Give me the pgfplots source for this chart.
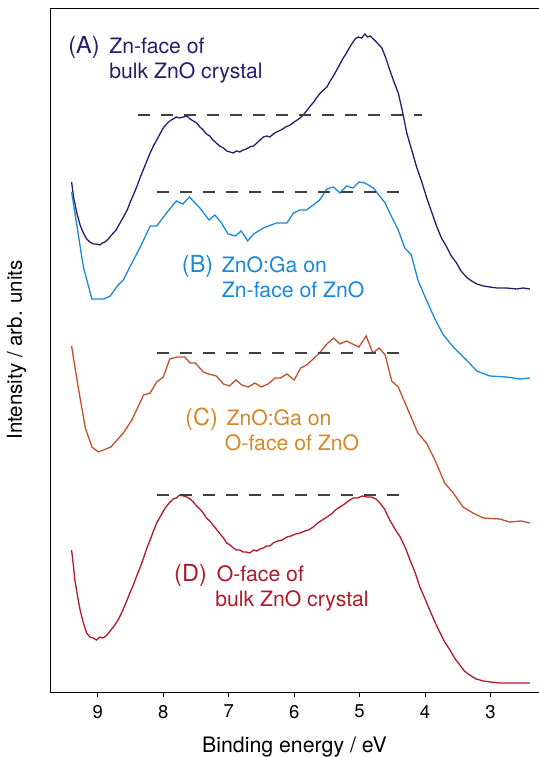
\documentclass[border=0pt]{standalone}
\usepackage{pgfplots}
\pgfplotsset{compat=1.18}
\usetikzlibrary{calc}
\usepackage{fontspec}
\setmainfont{TeX Gyre Heros}
\definecolor{cA}{HTML}{2B1B6E}
\definecolor{cB}{HTML}{1A8AD6}
\definecolor{cC}{HTML}{C2502C}
\definecolor{cCl}{HTML}{D4882A}
\definecolor{cD}{HTML}{B01A2A}
\definecolor{dashgray}{HTML}{404040}
\begin{document}
\begin{tikzpicture}
\begin{axis}[
  scale only axis, width=489bp, height=684bp,
  xmin=2.26, xmax=9.73, x dir=reverse, ymin=0, ymax=684,
  axis x line=box, axis y line=left, axis line style={-, line width=0.9bp, black},
  xtick={3,4,5,6,7,8,9}, xtick pos=left, ytick=\empty,
  tick align=outside, major tick length=5bp, tick style={black, line width=0.9bp},
  /pgf/number format/assume math mode=true,
  xticklabel style={font=\fontsize{18.5bp}{22bp}\selectfont, yshift=-4.5bp},
  clip=false,
]
\coordinate (sw) at (rel axis cs:0,0);
\coordinate (ne) at (rel axis cs:1,1);
\coordinate (bm) at (rel axis cs:0.5,0);
\coordinate (lm) at (rel axis cs:0,0.5);
% (A)
\addplot[cA, line width=1.3bp] coordinates {
(9.40,510)(9.37,495)(9.32,479)(9.27,467)(9.22,459)(9.17,453)(9.12,450)(9.07,448)(9.02,448)(8.97,447)
(8.93,449)(8.89,450)(8.84,453)(8.79,457)(8.72,462)(8.66,469)(8.60,476)(8.55,482)(8.51,489)(8.45,498)
(8.40,506)(8.35,515)(8.30,523)(8.25,531)(8.20,539)(8.15,546)(8.10,552)(8.05,558)(8.00,564)(7.95,568)
(7.90,571)(7.85,573)(7.80,575)(7.75,574)(7.69,575)(7.64,576)(7.59,573)(7.54,571)(7.49,569)(7.44,565)
(7.39,562)(7.34,558)(7.29,556)(7.24,552)(7.19,549)(7.14,546)(7.08,544)(7.03,541)(6.98,540)(6.93,539)
(6.88,541)(6.83,540)(6.78,542)(6.73,543)(6.68,545)(6.62,546)(6.57,549)(6.52,552)(6.47,555)(6.42,556)
(6.37,555)(6.32,558)(6.27,560)(6.20,562)(6.13,565)(6.06,567)(6.00,570)(5.93,573)(5.86,577)(5.80,582)
(5.74,587)(5.70,590)(5.66,594)(5.60,599)(5.55,602)(5.50,605)(5.45,611)(5.40,616)(5.35,622)(5.30,628)
(5.25,634)(5.20,639)(5.15,645)(5.10,650)(5.07,653)(5.02,655)(4.97,654)(4.92,658)(4.88,655)(4.84,656)
(4.79,653)(4.73,649)(4.66,644)(4.60,634)(4.54,622)(4.48,611)(4.41,599)(4.35,582)(4.28,559)(4.20,541)
(4.13,525)(4.05,510)(3.98,495)(3.90,480)(3.82,465)(3.75,454)(3.67,445)(3.60,436)(3.52,429)(3.45,421)
(3.37,415)(3.29,411)(3.21,408)(3.11,406)(3.01,405)(2.90,404)(2.76,404)(2.60,403)(2.50,404)(2.40,403)
};
% (B)
\addplot[cB, line width=1.3bp] coordinates {
(9.40,500)(9.22,425)(9.09,393)(8.91,393)(8.81,396)(8.69,407)(8.61,412)(8.51,425)(8.35,445)(8.20,466)
(8.10,466)(7.95,479)(7.80,491)(7.70,488)(7.60,495)(7.44,484)(7.30,472)(7.21,477)(7.11,469)(7.01,458)
(6.90,456)(6.81,461)(6.71,451)(6.62,458)(6.47,464)(6.27,469)(6.11,469)(6.01,479)(5.91,482)(5.81,482)
(5.61,492)(5.50,503)(5.40,505)(5.30,499)(5.20,506)(5.10,504)(5.01,510)(4.92,509)(4.79,504)(4.61,489)
(4.54,479)(4.41,462)(4.31,444)(4.21,437)(4.11,412)(3.98,392)(3.85,373)(3.72,357)(3.57,345)(3.37,332)
(3.21,321)(3.01,316)(2.76,315)(2.55,313)(2.40,314)
};
% (C)
\addplot[cC, line width=1.3bp] coordinates {
(9.40,346)(9.30,305)(9.19,264)(9.09,245)(8.99,240)(8.80,245)(8.61,259)(8.48,272)(8.30,297)(8.20,299)
(8.10,310)(8.00,315)(7.90,333)(7.79,335)(7.67,335)(7.59,329)(7.51,329)(7.39,320)(7.31,318)(7.19,316)
(7.08,308)(6.99,306)(6.89,312)(6.80,307)(6.70,305)(6.60,309)(6.50,305)(6.40,308)(6.29,314)(6.21,314)
(6.11,318)(6.00,312)(5.90,324)(5.81,327)(5.71,333)(5.60,340)(5.50,348)(5.40,354)(5.30,348)(5.20,351)
(5.11,348)(5.01,345)(4.90,356)(4.80,339)(4.70,344)(4.61,337)(4.51,311)(4.41,305)(4.28,285)(4.11,259)
(3.98,249)(3.85,232)(3.70,209)(3.57,199)(3.42,185)(3.27,179)(3.11,174)(2.86,173)(2.71,170)(2.53,171)
(2.40,169)
};
% (D)
\addplot[cD, line width=1.3bp] coordinates {
(9.40,142)(9.37,125)(9.35,112)(9.31,96)(9.27,82)(9.22,69)(9.17,59)(9.12,55)(9.07,54)(9.02,52)
(8.97,55)(8.92,54)(8.86,57)(8.80,62)(8.75,66)(8.69,72)(8.63,80)(8.57,89)(8.51,99)(8.45,108)
(8.40,117)(8.35,125)(8.30,134)(8.25,144)(8.20,152)(8.15,161)(8.10,169)(8.04,176)(7.97,184)(7.91,189)
(7.85,193)(7.80,194)(7.75,197)(7.69,196)(7.64,195)(7.59,193)(7.54,190)(7.49,186)(7.44,183)(7.39,179)
(7.34,174)(7.29,171)(7.24,167)(7.18,162)(7.13,158)(7.08,154)(7.03,149)(6.98,147)(6.93,144)(6.88,142)
(6.83,142)(6.78,140)(6.73,140)(6.68,139)(6.62,142)(6.57,141)(6.52,143)(6.47,144)(6.42,146)(6.37,146)
(6.32,149)(6.25,151)(6.18,152)(6.11,155)(6.05,156)(5.98,158)(5.91,159)(5.84,161)(5.78,162)(5.71,165)
(5.64,169)(5.57,172)(5.50,175)(5.43,178)(5.37,182)(5.30,185)(5.23,188)(5.17,191)(5.10,194)(5.03,194)
(4.96,196)(4.89,195)(4.82,195)(4.75,193)(4.69,189)(4.62,183)(4.54,172)(4.46,163)(4.38,155)(4.30,144)
(4.23,132)(4.15,119)(4.08,105)(4.00,93)(3.93,82)(3.85,70)(3.77,59)(3.70,50)(3.62,42)(3.55,34)
(3.47,27)(3.40,21)(3.32,17)(3.22,13)(3.11,11)(3.00,10)(2.86,9)(2.60,9)(2.40,9)
};
% dashed reference lines
\addplot[dashgray, line width=1.4bp, dash pattern=on 12bp off 11bp] coordinates {(8.38,577)(4.05,577)};
\addplot[dashgray, line width=1.4bp, dash pattern=on 12bp off 11bp] coordinates {(8.09,500)(4.31,500)};
\addplot[dashgray, line width=1.4bp, dash pattern=on 12bp off 11bp] coordinates {(8.09,339)(4.31,339)};
\addplot[dashgray, line width=1.4bp, dash pattern=on 12bp off 11bp] coordinates {(8.09,197)(4.31,197)};
% labels
\node[cA, anchor=base west, inner sep=0, font=\fontsize{23.5bp}{26bp}\selectfont] at (axis cs:9.453,638) {(A)};
\node[cA, anchor=base west, inner sep=0, font=\fontsize{21.2bp}{24bp}\selectfont] at (axis cs:8.827,638) {Zn-face of};
\node[cA, anchor=base west, inner sep=0, font=\fontsize{21.2bp}{24bp}\selectfont] at (axis cs:8.827,613) {bulk ZnO crystal};
\node[cB, anchor=base west, inner sep=0, font=\fontsize{23.5bp}{26bp}\selectfont] at (axis cs:7.717,419) {(B)};
\node[cB, anchor=base west, inner sep=0, font=\fontsize{21.2bp}{24bp}\selectfont] at (axis cs:7.106,419) {ZnO:Ga on};
\node[cB, anchor=base west, inner sep=0, font=\fontsize{21.2bp}{24bp}\selectfont] at (axis cs:7.106,394) {Zn-face of ZnO};
\node[cCl, anchor=base west, inner sep=0, font=\fontsize{23.5bp}{26bp}\selectfont] at (axis cs:7.667,266) {(C)};
\node[cCl, anchor=base west, inner sep=0, font=\fontsize{21.2bp}{24bp}\selectfont] at (axis cs:7.036,266) {ZnO:Ga on};
\node[cCl, anchor=base west, inner sep=0, font=\fontsize{21.2bp}{24bp}\selectfont] at (axis cs:7.060,241) {O-face of ZnO};
\node[cD, anchor=base west, inner sep=0, font=\fontsize{23.5bp}{26bp}\selectfont] at (axis cs:7.835,110) {(D)};
\node[cD, anchor=base west, inner sep=0, font=\fontsize{21.2bp}{24bp}\selectfont] at (axis cs:7.183,110) {O-face of};
\node[cD, anchor=base west, inner sep=0, font=\fontsize{21.2bp}{24bp}\selectfont] at (axis cs:7.208,85) {bulk ZnO crystal};
\end{axis}
\node[anchor=base, inner sep=0, font=\fontsize{21.3bp}{24bp}\selectfont] at ([yshift=-60bp]bm) {Binding energy / eV};
\node[rotate=90, anchor=base, inner sep=0, font=\fontsize{20.5bp}{23bp}\selectfont] at ([xshift=-28bp]lm) {Intensity / arb. units};
\pgfresetboundingbox
\path[use as bounding box] ([xshift=-50bp,yshift=-65bp]sw) rectangle ([yshift=8bp]ne);
\end{tikzpicture}
\end{document}
